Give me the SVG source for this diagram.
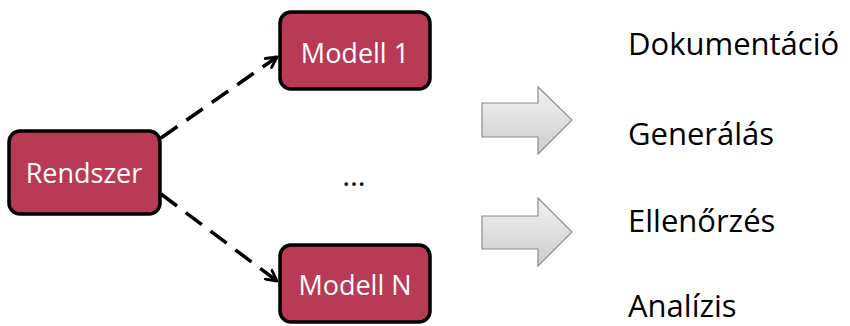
<svg xmlns="http://www.w3.org/2000/svg" width="850" height="326" viewBox="0 0 850 326">
<defs>
<linearGradient id="g" x1="0" y1="0" x2="0" y2="1">
<stop offset="0" stop-color="#f2f2f2"/>
<stop offset="1" stop-color="#cdcdcd"/>
</linearGradient>
<marker id="ah" viewBox="0 0 14 14" refX="12" refY="7" markerWidth="14" markerHeight="14" markerUnits="userSpaceOnUse" orient="auto">
<path d="M1.5,1.5 L12,7 L1.5,12.5" fill="none" stroke="#000" stroke-width="2.8" stroke-linecap="round" stroke-linejoin="round"/>
</marker>
</defs>
<style>
.box{fill:#b83a55;stroke:#000;stroke-width:3.5}
.bt{font-family:"Open Sans","Liberation Sans",sans-serif;font-size:27px;fill:#fff;text-anchor:middle}
.rt{font-family:"Open Sans","Liberation Sans",sans-serif;font-size:31px;fill:#000}
.con{fill:none;stroke:#000;stroke-width:3.5;stroke-dasharray:20 11}
.ba{fill:url(#g);stroke:#8c8c8c;stroke-width:1.2}
</style>
<g id="connectors">
<line class="con" x1="161" y1="138" x2="277" y2="57" marker-end="url(#ah)"/>
<line class="con" x1="161" y1="194" x2="277" y2="281" marker-end="url(#ah)"/>
</g>
<g id="rendszer">
<rect class="box" x="9" y="131" width="151" height="83" rx="11"/>
<text class="bt" x="84" y="183">Rendszer</text>
</g>
<g id="modell1">
<rect class="box" x="280" y="12" width="150" height="77" rx="11"/>
<text class="bt" x="355" y="63">Modell 1</text>
</g>
<g id="modellN">
<rect class="box" x="280" y="245" width="150" height="77" rx="11"/>
<text class="bt" x="355" y="295">Modell N</text>
</g>
<g id="dots">
<text font-family="Open Sans, sans-serif" font-size="30" x="354" y="186" text-anchor="middle">…</text>
</g>
<g id="arrow1">
<path class="ba" d="M482,103 H538 V87 L572,120 L538,154 V137 H482 Z"/>
</g>
<g id="arrow2">
<path class="ba" d="M482,216 H538 V198 L572,232 L538,266 V249 H482 Z"/>
</g>
<g id="labels">
<text class="rt" x="628" y="55">Dokumentáció</text>
<text class="rt" x="628" y="145">Generálás</text>
<text class="rt" x="628" y="232">Ellenőrzés</text>
<text class="rt" x="628" y="317">Analízis</text>
</g>
</svg>
